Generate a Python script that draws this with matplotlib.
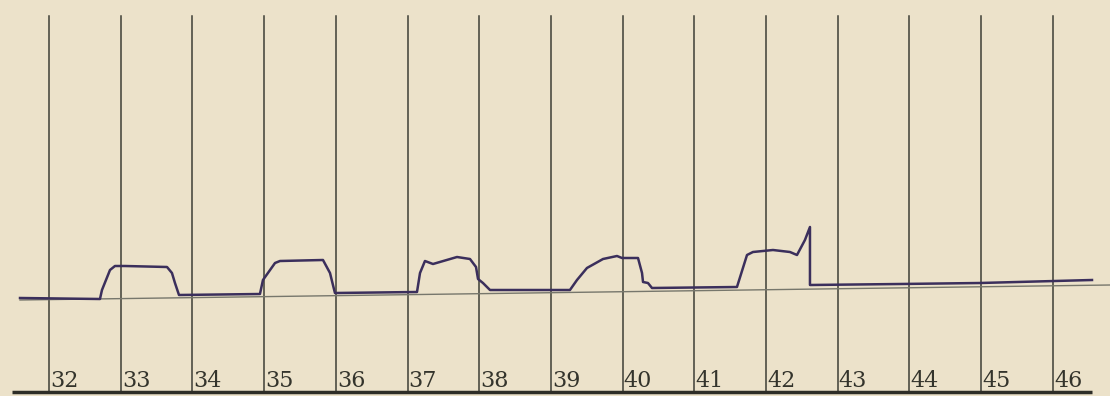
import matplotlib.pyplot as plt

# seconds marked under the vertical time lines
seconds = [32, 33, 34, 35, 36, 37, 38, 39, 40, 41, 42, 43, 44, 45, 46]

# recorded trace (time in s, height above the time axis)
trace_t = [31.596, 32.711, 32.739, 32.851, 32.920, 33.060, 33.646, 33.715, 33.757, 33.813,
           34.942, 34.984, 35.152, 35.221, 35.821, 35.919, 35.960, 35.988,
           37.132, 37.174, 37.243, 37.355, 37.690, 37.871, 37.955, 37.983, 38.052, 38.150,
           39.265, 39.363, 39.502, 39.726, 39.921, 39.991, 40.214, 40.270, 40.284, 40.353, 40.409,
           41.594, 41.734, 41.817, 42.096, 42.333, 42.431, 42.542, 42.612, 42.612,
           43.867, 44.983, 46.545]
trace_h = [94, 93, 102, 122, 126, 126, 125, 119, 109, 97,
           98, 112, 129, 131, 132, 119, 107, 99,
           100, 119, 131, 128, 135, 133, 125, 113, 109, 102,
           102, 112, 124, 133, 136, 134, 134, 119, 110, 109, 104,
           105, 137, 140, 142, 140, 137, 152, 165, 107,
           108, 109, 112]

# thin zero line drawn across the record
base_t = [31.596, 46.796]
base_h = [92, 107]

fig = plt.figure(figsize=(11.1, 3.96), dpi=100)
fig.patch.set_facecolor('#ece2ca')
ax = fig.add_axes([0, 0, 1, 1])
ax.set_facecolor('#ece2ca')

for s in seconds:
    ax.plot([s, s], [0, 376], color='#3e3e36', lw=1.1)
    ax.text(s + 0.015, 5, str(s), fontsize=16, family='DejaVu Serif',
            color='#34342c', ha='left', va='baseline')

ax.plot([31.484, 46.545], [0, 0], color='#2e2e28', lw=2.5, solid_capstyle='butt')
ax.plot(base_t, base_h, color='#77776c', lw=1.0)
ax.plot(trace_t, trace_h, color='#3b2f5c', lw=1.8, solid_joinstyle='round')

ax.set_xlim(31.317, 46.796)
ax.set_ylim(-4, 392)
ax.axis('off')

fig.savefig('out.png', dpi=100, facecolor=fig.get_facecolor())
